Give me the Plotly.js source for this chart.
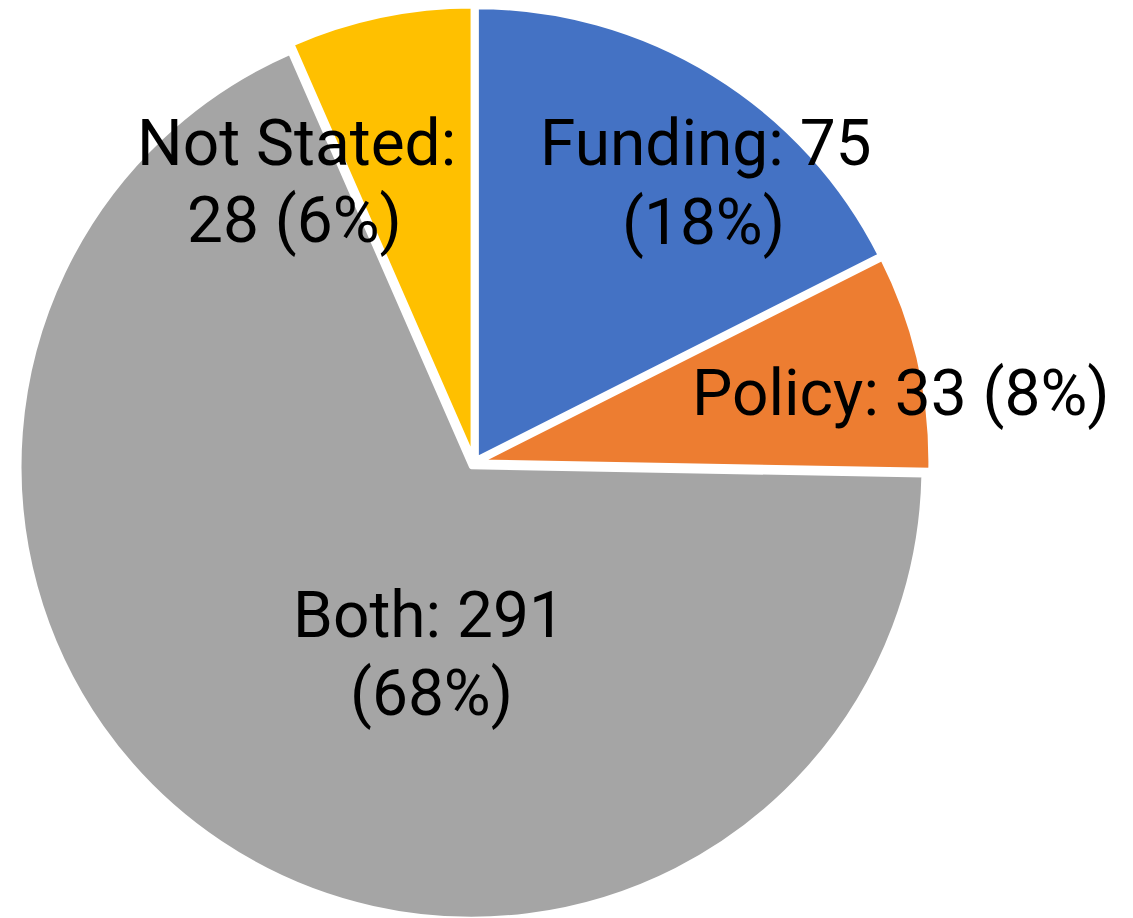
<!DOCTYPE html>
<html>
<head>
<meta charset="utf-8">
<script src="https://cdn.plot.ly/plotly-3.0.1.min.js"></script>
<style>
html,body{margin:0;padding:0;background:#fff;overflow:hidden;width:1133px;height:918px;}
#chart{position:absolute;left:0;top:-10px;width:1133px;height:940px;}
</style>
</head>
<body>
<div id="chart"></div>
<script>
var categories = ["Funding", "Policy", "Both", "Not Stated"];
var counts = [75, 33, 291, 28];
var pctLabels = ["18%", "8%", "68%", "6%"];
var colors = ["#4472C4", "#ED7D31", "#A5A5A5", "#FFC000"];

// label line layout: screen pixel centres of each text line
var labelLinesPx = [
  [[706, 143.5], [703, 222]],   // Funding
  [[901, 393.5]],               // Policy
  [[429, 615], [431, 693]],     // Both
  [[296, 143.5], [294, 220.5]]  // Not Stated
];

var L = 17, T = 16, W = 914, H = 914, DIVTOP = -10;
function pxX(sx){ return (sx - L) / W; }
function pxY(sy){ return 1 - (sy - DIVTOP - T) / H; }

function labelLines(i){
  var c = categories[i], n = counts[i], p = pctLabels[i];
  if (c === "Not Stated") return [c + ":", n + " (" + p + ")"];
  if (c === "Policy") return [c + ": " + n + " (" + p + ")"];
  return [c + ": " + n, "(" + p + ")"];
}

var annotations = [];
categories.forEach(function(c, i){
  var lines = labelLines(i);
  lines.forEach(function(t, k){
    annotations.push({
      text: t, xref: "paper", yref: "paper",
      x: pxX(labelLinesPx[i][k][0]), y: pxY(labelLinesPx[i][k][1]),
      xanchor: "center", yanchor: "middle", align: "center",
      showarrow: false,
      font: {family: "Roboto, 'Open Sans', sans-serif", size: 64, color: "#000000"}
    });
  });
});

var data = [{
  type: "pie",
  labels: categories,
  values: counts,
  sort: false,
  direction: "clockwise",
  rotation: 0,
  pull: [0.01, 0.01, 0.01, 0.01],
  marker: {colors: colors, line: {color: "#FFFFFF", width: 5}},
  textinfo: "none",
  hoverinfo: "skip",
  showlegend: false
}];

var layout = {
  width: 1133, height: 940,
  margin: {l: L, r: 1133 - L - W, t: T, b: 940 - T - H, autoexpand: false},
  paper_bgcolor: "#FFFFFF",
  plot_bgcolor: "#FFFFFF",
  showlegend: false,
  annotations: annotations
};

Plotly.newPlot("chart", data, layout, {displayModeBar: false, staticPlot: true});
</script>
</body>
</html>
